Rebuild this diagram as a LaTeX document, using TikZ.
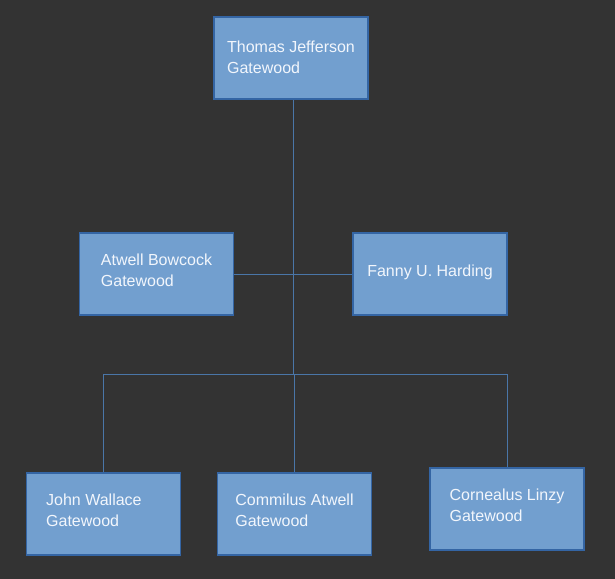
\documentclass[tikz,border=0pt]{standalone}
\usepackage{fontspec}
\setmainfont{Liberation Sans}
\definecolor{bgdark}{HTML}{333333}
\definecolor{boxfill}{HTML}{729FCF}
\definecolor{boxline}{HTML}{3465A4}
\definecolor{linkline}{HTML}{4A76A8}
\definecolor{nametext}{HTML}{F2F6FC}

\tikzset{person/.style={shape=rectangle, draw=boxline, fill=boxfill, line width=0.8pt,
  minimum width=115.5pt, minimum height=61.5pt, align=left, text=nametext,
  font=\fontsize{12pt}{15.75pt}\selectfont, text depth=5pt},
  link/.style={draw=linkline, line width=0.75pt}}

\begin{document}
\begin{tikzpicture}[x=0.75pt,y=-0.75pt]
\fill [bgdark] (0,0) rectangle (615,579);
\useasboundingbox (0,0) rectangle (615,579);

\path (291,58) node (thomas) [person, text depth=1.5pt] {Thomas Jefferson\\Gatewood};
\path (156.5,274) node (atwell) [person] {Atwell Bowcock\\Gatewood};
\path (430,274) node (fanny) [person] {Fanny U. Harding};
\path (103.5,514) node (john) [person] {\makebox[86pt][l]{John Wallace}\\Gatewood};
\path (294.5,514) node (commilus) [person] {Commilus Atwell\\Gatewood};
\path (507,509) node (cornealus) [person] {Cornealus Linzy\\Gatewood};

\coordinate (bus) at (294,374);

\draw [link] (atwell) to (fanny);
\draw [link] ([xshift=1.5pt]thomas.south) to ([xshift=1.5pt]thomas.south |- bus);
\draw [link] (john.north |- bus) to (cornealus.north |- bus);
\draw [link] (john.north |- bus) to (john.north);
\draw [link] (commilus.north |- bus) to (commilus.north);
\draw [link] (cornealus.north |- bus) to (cornealus.north);

\end{tikzpicture}
\end{document}
